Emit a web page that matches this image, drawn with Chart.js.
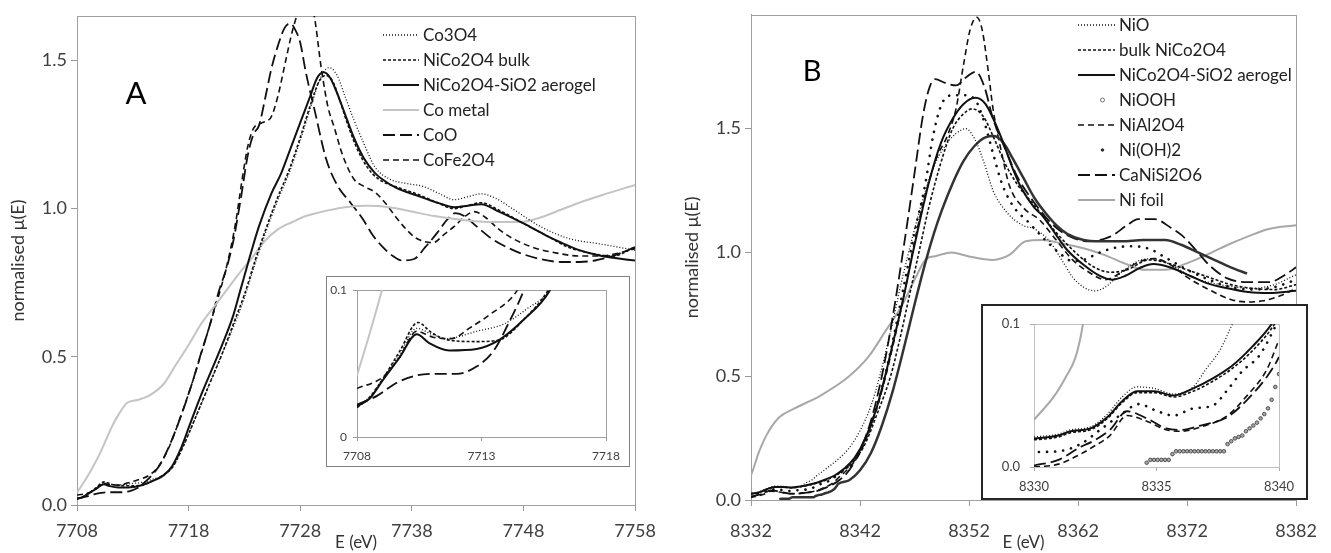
<!DOCTYPE html>
<html>
<head>
<meta charset="utf-8">
<title>Co and Ni K-edge XANES</title>
<script src="https://cdn.jsdelivr.net/npm/chart.js@4.4.0/dist/chart.umd.min.js"></script>
<style>
  body { margin: 0; background: #fff; }
  #wrap { position: relative; width: 1331px; height: 553px; overflow: hidden; background: #fff; }
  canvas { position: absolute; left: 0; top: 0; }
  .inset { position: absolute; background: #fff; }
</style>
</head>
<body>
<div id="wrap">
  <canvas id="mainA" width="665" height="553"></canvas>
  <canvas id="mainB" width="666" height="553" style="left:665px"></canvas>
  <div class="inset" style="left:326px;top:276px;width:302px;height:189px;border:1px solid #808080">
    <canvas id="insetA" width="302" height="189"></canvas>
  </div>
  <div class="inset" style="left:981px;top:304px;width:323px;height:192px;border:2px solid #262626">
    <canvas id="insetB" width="323" height="192"></canvas>
  </div>
</div>
<script>
// ---- panel A : Co K-edge, [E (eV), normalised mu(E)] ----
var co3o4 = [[7708,0.021],[7708.5,0.027],[7709.05,0.04],[7709.7,0.056],[7710.4,0.074],[7711,0.07],[7711.6,0.067],[7712.8,0.072],[7713.9,0.077],[7714.8,0.087],[7715.75,0.1],[7716.5,0.125],[7717.3,0.18],[7718,0.24],[7719,0.33],[7720,0.42],[7721,0.51],[7722,0.6],[7723,0.7],[7724,0.82],[7725,0.93],[7726,1.03],[7727,1.12],[7728,1.23],[7729,1.35],[7729.8,1.44],[7730.6,1.476],[7731.3,1.45],[7732,1.38],[7732.8,1.3],[7733.7,1.22],[7734.7,1.14],[7736,1.1],[7737.5,1.085],[7739,1.075],[7740.5,1.05],[7741.8,1.03],[7743,1.04],[7744.2,1.05],[7745.5,1.035],[7747,1.0],[7749.5,0.94],[7752,0.9],[7755,0.88],[7758,0.86]];
var bulkA = [[7708,0.02],[7708.5,0.027],[7709.05,0.04],[7709.7,0.058],[7710.45,0.078],[7711,0.071],[7711.7,0.066],[7712.8,0.065],[7713.7,0.066],[7714.7,0.08],[7715.6,0.098],[7716.5,0.125],[7717.3,0.18],[7718,0.24],[7719,0.33],[7720,0.42],[7721,0.51],[7722,0.61],[7723,0.71],[7724,0.83],[7725,0.94],[7726,1.04],[7727,1.13],[7728,1.24],[7729,1.36],[7729.7,1.43],[7730.3,1.45],[7730.9,1.43],[7731.5,1.37],[7732.2,1.29],[7733,1.21],[7734,1.14],[7735,1.1],[7736.5,1.075],[7738.4,1.05],[7740.3,1.02],[7741.8,1.0],[7743,1.01],[7744.2,1.02],[7745.8,0.995],[7748,0.95],[7750,0.91],[7752,0.87],[7754,0.85],[7756,0.84],[7758,0.87]];
var aerogelA = [[7708,0.021],[7708.5,0.026],[7709.05,0.039],[7709.7,0.054],[7710.4,0.07],[7710.9,0.064],[7711.7,0.059],[7712.8,0.06],[7713.7,0.066],[7714.7,0.08],[7715.75,0.1],[7716.5,0.13],[7717.3,0.19],[7718,0.26],[7719,0.36],[7720,0.45],[7721,0.54],[7722,0.64],[7722.6,0.72],[7723.5,0.84],[7724.3,0.94],[7725.4,1.05],[7726.3,1.12],[7727.1,1.2],[7728,1.29],[7728.9,1.38],[7729.5,1.44],[7730.1,1.46],[7730.7,1.44],[7731.3,1.39],[7732,1.32],[7732.8,1.24],[7733.7,1.17],[7734.7,1.12],[7735.7,1.09],[7736.6,1.07],[7738.4,1.045],[7740.3,1.02],[7741.8,1.005],[7743,1.01],[7744.2,1.015],[7745.8,0.99],[7748,0.95],[7750,0.91],[7751.4,0.885],[7753,0.86],[7755,0.84],[7758,0.825]];
var coMetal = [[7708,0.042],[7708.5,0.07],[7709,0.1],[7709.3,0.12],[7710,0.17],[7710.6,0.22],[7711.2,0.27],[7711.8,0.31],[7712.5,0.345],[7713.5,0.355],[7714.5,0.37],[7715.8,0.41],[7716.8,0.47],[7718,0.54],[7719.1,0.61],[7720.3,0.67],[7721.5,0.73],[7722.5,0.78],[7723.6,0.83],[7724.8,0.89],[7726,0.93],[7727.3,0.955],[7728.5,0.975],[7730.6,0.995],[7732,1.005],[7734,1.01],[7736,1.005],[7738,0.99],[7740,0.975],[7743,0.96],[7745,0.955],[7747.7,0.955],[7749.5,0.97],[7751.4,0.997],[7753,1.02],[7755,1.045],[7758,1.08]];
var coO = [[7708,0.022],[7708.8,0.028],[7709.6,0.037],[7710.4,0.042],[7711.1,0.043],[7712,0.043],[7712.8,0.048],[7713.5,0.059],[7714.1,0.078],[7714.7,0.1],[7715.5,0.14],[7716.5,0.22],[7717.5,0.32],[7718.3,0.41],[7719.1,0.51],[7720,0.62],[7720.7,0.72],[7721.4,0.8],[7722,0.89],[7722.7,1.04],[7723.3,1.18],[7723.8,1.25],[7724.3,1.28],[7724.9,1.38],[7725.4,1.47],[7726,1.55],[7726.6,1.61],[7727.1,1.625],[7727.6,1.6],[7728,1.56],[7728.5,1.46],[7729.3,1.33],[7730.3,1.17],[7731.3,1.08],[7732.5,1.02],[7733.6,0.965],[7734.5,0.91],[7735.4,0.87],[7736.3,0.84],[7737.1,0.825],[7738.2,0.83],[7739.2,0.87],[7740.3,0.92],[7741.2,0.965],[7741.9,0.985],[7742.7,0.975],[7743.8,0.94],[7745.1,0.9],[7746.5,0.87],[7747.7,0.85],[7749.5,0.83],[7751.4,0.82],[7753,0.82],[7754.4,0.825],[7756,0.84],[7758,0.87]];
var coFe2o4 = [[7708,0.033],[7709.05,0.041],[7709.7,0.054],[7710.4,0.072],[7711.05,0.068],[7711.8,0.067],[7712.5,0.074],[7713.3,0.083],[7714.4,0.099],[7715.3,0.13],[7716.3,0.2],[7717.3,0.3],[7718.3,0.41],[7719.2,0.52],[7720,0.62],[7720.8,0.72],[7721.5,0.82],[7722.2,0.95],[7722.8,1.1],[7723.3,1.21],[7723.8,1.27],[7724.6,1.29],[7725.4,1.31],[7726,1.38],[7726.7,1.5],[7727.3,1.6],[7727.8,1.66],[7728.5,1.7],[7729.2,1.66],[7729.9,1.47],[7730.5,1.34],[7731,1.28],[7731.8,1.18],[7732.8,1.1],[7733.7,1.075],[7734.7,1.055],[7735.6,1.02],[7736.6,0.97],[7737.5,0.93],[7738.4,0.9],[7739.9,0.885],[7740.8,0.91],[7741.8,0.94],[7742.8,0.975],[7743.6,0.99],[7744.6,0.97],[7745.8,0.93],[7747,0.9],[7748.8,0.87],[7751,0.85],[7753,0.84],[7755,0.84],[7756.5,0.85],[7758,0.865]];

// ---- panel B : Ni K-edge ----
var niO = [[8330,0.021],[8331,0.023],[8331.5,0.026],[8332.3,0.028],[8333,0.037],[8333.6,0.049],[8334.2,0.056],[8334.9,0.055],[8335.7,0.051],[8336.5,0.056],[8337,0.068],[8337.6,0.082],[8338.1,0.1],[8339,0.13],[8340,0.165],[8341,0.21],[8342,0.28],[8343,0.38],[8343.8,0.5],[8344.8,0.68],[8345.8,0.88],[8346.8,1.06],[8347.8,1.22],[8348.8,1.35],[8349.8,1.43],[8350.8,1.48],[8351.7,1.5],[8352.5,1.46],[8353.4,1.36],[8354.2,1.25],[8355.5,1.16],[8356.9,1.11],[8358,1.095],[8359.3,1.05],[8360.5,0.97],[8361.5,0.9],[8362.5,0.86],[8363.5,0.845],[8364.5,0.86],[8366,0.92],[8367.5,0.965],[8368.8,0.975],[8370.5,0.95],[8372.5,0.9],[8375,0.87],[8378,0.855],[8380,0.87],[8382,0.91]];
var bulkB = [[8330,0.019],[8331,0.021],[8331.5,0.024],[8332.3,0.026],[8333,0.034],[8333.6,0.045],[8334.2,0.052],[8334.9,0.052],[8335.7,0.049],[8336.5,0.053],[8337.3,0.06],[8338.1,0.069],[8338.9,0.081],[8339.7,0.097],[8340.5,0.12],[8341.5,0.16],[8342.5,0.23],[8343.5,0.34],[8344.8,0.5],[8345.6,0.64],[8346.5,0.82],[8347.4,1.0],[8348.3,1.18],[8349.4,1.36],[8350.5,1.5],[8351.5,1.56],[8352.3,1.58],[8353.3,1.55],[8354.3,1.46],[8355.3,1.36],[8356.5,1.27],[8358,1.19],[8360,1.08],[8362,0.99],[8363.5,0.94],[8365,0.92],[8366.5,0.93],[8368.5,0.97],[8370,0.96],[8372,0.93],[8374,0.9],[8376,0.87],[8378,0.855],[8380,0.85],[8382,0.87]];
var aerogelB = [[8330,0.02],[8331,0.022],[8331.5,0.025],[8332.3,0.027],[8333,0.035],[8333.6,0.046],[8334.2,0.053],[8334.9,0.053],[8335.7,0.05],[8336.5,0.055],[8337.3,0.062],[8338.1,0.071],[8338.9,0.084],[8339.7,0.1],[8340.5,0.125],[8341.5,0.17],[8342.5,0.25],[8343.5,0.37],[8344.3,0.5],[8345,0.63],[8346,0.82],[8346.8,0.99],[8347.5,1.13],[8348.3,1.28],[8349.4,1.44],[8350.5,1.54],[8351.5,1.6],[8352.6,1.625],[8353.5,1.6],[8354.9,1.47],[8356,1.34],[8356.8,1.26],[8358,1.18],[8358.7,1.15],[8360,1.07],[8361,1.01],[8362.5,0.95],[8364,0.905],[8365.1,0.89],[8366.3,0.905],[8367.8,0.94],[8368.9,0.953],[8370.4,0.94],[8372.3,0.905],[8373.8,0.876],[8375.7,0.855],[8377.6,0.84],[8379.5,0.836],[8382,0.845]];
var niOOH = [[8334.6,0.003],[8334.75,0.005],[8334.9,0.005],[8335.05,0.005],[8335.2,0.005],[8335.35,0.005],[8335.5,0.005],[8335.65,0.009],[8335.8,0.011],[8335.95,0.011],[8336.1,0.011],[8336.25,0.011],[8336.4,0.011],[8336.55,0.011],[8336.7,0.011],[8336.85,0.011],[8337,0.011],[8337.15,0.011],[8337.3,0.011],[8337.45,0.011],[8337.6,0.011],[8337.75,0.011],[8337.9,0.016],[8338.05,0.018],[8338.2,0.02],[8338.35,0.021],[8338.5,0.022],[8338.65,0.025],[8338.8,0.027],[8338.95,0.029],[8339.1,0.031],[8339.25,0.034],[8339.4,0.037],[8339.55,0.041],[8339.7,0.047],[8339.85,0.056],[8340,0.065],[8341,0.08],[8342,0.12],[8343,0.19],[8344,0.3],[8345,0.44],[8346,0.61],[8347,0.79],[8348,0.96],[8348.8,1.08],[8349.5,1.17],[8350.5,1.28],[8351.5,1.37],[8352.5,1.43],[8353.5,1.465],[8354.3,1.47],[8355.2,1.44],[8356,1.38],[8357,1.3],[8358,1.22],[8359,1.16],[8360,1.11],[8361,1.075],[8362.5,1.05],[8364,1.045],[8366,1.045],[8368,1.05],[8370,1.05],[8371.5,1.03],[8373,1.0],[8374.5,0.97],[8376,0.94],[8377.5,0.915]];
var niAl2o4 = [[8330,0.0],[8331,0.002],[8331.9,0.009],[8332.4,0.014],[8333.1,0.022],[8333.8,0.036],[8334.6,0.032],[8335.4,0.026],[8336,0.025],[8336.8,0.028],[8337.9,0.036],[8338.7,0.05],[8339.5,0.068],[8340,0.089],[8341,0.13],[8342,0.19],[8343,0.3],[8344,0.44],[8345,0.62],[8346,0.82],[8346.8,1.0],[8347.8,1.2],[8349,1.38],[8350,1.47],[8350.8,1.58],[8351.5,1.76],[8352.1,1.9],[8352.7,1.95],[8353.2,1.9],[8353.8,1.72],[8354.2,1.58],[8355,1.4],[8355.7,1.27],[8357,1.18],[8358.5,1.13],[8360,1.05],[8361.5,0.97],[8363,0.92],[8364.5,0.89],[8366,0.92],[8367.5,0.96],[8369,0.975],[8370.5,0.95],[8372,0.9],[8374,0.85],[8376,0.81],[8377.5,0.8],[8379,0.805],[8380.6,0.826],[8382,0.855]];
var niOH2 = [[8330.2,0.0105],[8331,0.011],[8331.9,0.016],[8332.7,0.026],[8333.5,0.036],[8334.3,0.044],[8334.9,0.04],[8335.7,0.036],[8336.5,0.041],[8337.3,0.043],[8337.9,0.054],[8338.5,0.067],[8339.2,0.078],[8339.9,0.1],[8341,0.14],[8342,0.2],[8343,0.3],[8344,0.45],[8345,0.64],[8346,0.86],[8347,1.08],[8348,1.28],[8348.7,1.47],[8349.5,1.6],[8350.5,1.635],[8351.5,1.635],[8352.5,1.62],[8353.3,1.54],[8354.2,1.4],[8355,1.28],[8356,1.19],[8357.5,1.12],[8359,1.05],[8360.5,0.99],[8361.5,0.965],[8362.5,0.97],[8364,1.0],[8365.5,1.02],[8367,1.025],[8368.5,1.015],[8370,0.98],[8372,0.93],[8374,0.89],[8376,0.86],[8378,0.85],[8380,0.86],[8382,0.89]];
var caNiSi2o6 = [[8330,0.001],[8331,0.005],[8331.9,0.014],[8332.4,0.018],[8333.1,0.026],[8333.8,0.039],[8334.6,0.034],[8335.4,0.027],[8336,0.026],[8336.8,0.029],[8337.9,0.035],[8338.7,0.047],[8339.5,0.063],[8340,0.077],[8341,0.12],[8342,0.2],[8343,0.32],[8344,0.5],[8345,0.74],[8346,1.02],[8347,1.32],[8347.8,1.56],[8348.4,1.67],[8348.9,1.7],[8349.8,1.685],[8350.8,1.675],[8351.8,1.71],[8352.6,1.73],[8353.4,1.67],[8354.2,1.54],[8355.3,1.42],[8356.5,1.3],[8358,1.2],[8359.5,1.12],[8361,1.07],[8363,1.045],[8365,1.065],[8366.5,1.11],[8367.5,1.135],[8369,1.135],[8370.5,1.1],[8371.5,1.07],[8373,1.0],[8374,0.95],[8375.7,0.895],[8377.6,0.88],[8379.5,0.88],[8381,0.91],[8382,0.94]];
var niFoil = [[8330,0.033],[8330.8,0.049],[8331.3,0.063],[8331.7,0.077],[8332,0.1],[8332.7,0.19],[8333.4,0.26],[8334.5,0.33],[8336,0.37],[8338.3,0.42],[8341,0.5],[8342.8,0.58],[8344.3,0.68],[8345.9,0.79],[8347,0.89],[8348.1,0.975],[8348.9,0.985],[8350.4,1.0],[8351.9,0.985],[8354.2,0.97],[8355.7,0.99],[8357.2,1.045],[8358.7,1.05],[8360.6,1.035],[8362.5,1.017],[8364.4,0.99],[8366.3,0.955],[8368.1,0.93],[8370,0.93],[8371.9,0.955],[8373.8,0.99],[8375.7,1.03],[8377.6,1.065],[8379.5,1.095],[8382,1.11]];

// ---- ticks ----
var xTicksA = [7708, 7718, 7728, 7738, 7748, 7758];
var xTicksB = [8332, 8342, 8352, 8362, 8372, 8382];
var yTicksMain = [0, 0.5, 1.0, 1.5];
var xTicksInsetA = [7708, 7713, 7718];
var xTicksInsetB = [8330, 8335, 8340];
var yTicksInset = [0, 0.1];

Chart.defaults.font.family = 'Lato, "Open Sans", sans-serif';
Chart.defaults.color = '#404040';

var FINE_DOT = { borderWidth: 1.3, borderDash: [1, 2] };
var SHORT_DASH = { borderWidth: 1.6, borderDash: [3, 2] };
var SOLID = { borderWidth: 2 };
var MED_DASH = { borderWidth: 1.6, borderDash: [6, 4] };
var LONG_DASH = { borderWidth: 1.8, borderDash: [12, 5] };

function set(label, data, style) {
  return Object.assign({
    label: label, data: data, borderColor: '#111', pointRadius: 0,
    fill: false, cubicInterpolationMode: 'monotone'
  }, style);
}

function setsA() {
  return [
    set('Co3O4', co3o4, FINE_DOT),
    set('NiCo2O4 bulk', bulkA, SHORT_DASH),
    set('NiCo2O4-SiO2 aerogel', aerogelA, SOLID),
    set('Co metal', coMetal, { borderColor: '#c4c4c4', borderWidth: 2 }),
    set('CoO', coO, LONG_DASH),
    set('CoFe2O4', coFe2o4, MED_DASH)
  ];
}

function setsB(inset) {
  var ooh = inset
    ? { showLine: false, pointRadius: 1.8, pointBorderWidth: 0.8, pointBorderColor: '#333', pointBackgroundColor: '#aaa' }
    : { borderColor: '#333', borderWidth: 2.5 };
  ooh.legendDot = { r: 2, fill: '#fff', stroke: '#555' };
  return [
    set('NiO', niO, FINE_DOT),
    set('bulk NiCo2O4', bulkB, SHORT_DASH),
    set('NiCo2O4-SiO2 aerogel', aerogelB, SOLID),
    set('NiOOH', niOOH, ooh),
    set('NiAl2O4', niAl2o4, MED_DASH),
    set('Ni(OH)2', niOH2, { borderWidth: 2.6, borderDash: [0.1, 8], borderCapStyle: 'round', legendDot: { r: 1.3, fill: '#222', stroke: '#222' } }),
    set('CaNiSi2O6', caNiSi2o6, LONG_DASH),
    set('Ni foil', niFoil, { borderColor: '#a8a8a8', borderWidth: 2 })
  ];
}

// frame round the plot area, legend with line samples, panel letter
var decor = {
  id: 'decor',
  beforeDatasetsDraw: function (chart, args, o) {
    var a = chart.chartArea, ctx = chart.ctx;
    ctx.save();
    ctx.strokeStyle = o.frame || '#a0a0a0';
    ctx.lineWidth = 1;
    ctx.strokeRect(Math.round(a.left) + 0.5, Math.round(a.top) + 0.5, Math.round(a.right - a.left), Math.round(a.bottom - a.top));
    ctx.restore();
  },
  afterDraw: function (chart, args, o) {
    var ctx = chart.ctx;
    if (o.legend) {
      var L = o.legend;
      ctx.save();
      ctx.font = L.size + 'px Lato, "Open Sans", sans-serif';
      ctx.textBaseline = 'middle';
      ctx.fillStyle = '#222';
      chart.data.datasets.forEach(function (ds, i) {
        var y = L.y + i * L.dy;
        ctx.save();
        if (ds.legendDot) {
          ctx.beginPath();
          ctx.arc(L.x + L.len / 2 + 6, y, ds.legendDot.r, 0, 2 * Math.PI);
          ctx.fillStyle = ds.legendDot.fill;
          ctx.strokeStyle = ds.legendDot.stroke;
          ctx.lineWidth = 0.8;
          ctx.fill();
          ctx.stroke();
        } else {
          ctx.strokeStyle = ds.borderColor;
          ctx.lineWidth = ds.borderWidth;
          ctx.setLineDash(ds.borderDash || []);
          ctx.beginPath();
          ctx.moveTo(L.x, y);
          ctx.lineTo(L.x + L.len, y);
          ctx.stroke();
        }
        ctx.restore();
        ctx.fillText(ds.label, L.x + L.len + 4, y + 1);
      });
      ctx.restore();
    }
    if (o.tag) {
      ctx.save();
      ctx.font = o.tag.size + 'px Lato, "Open Sans", sans-serif';
      ctx.fillStyle = '#000';
      ctx.textAlign = 'center';
      ctx.textBaseline = 'middle';
      ctx.fillText(o.tag.text, o.tag.x, o.tag.y);
      ctx.restore();
    }
  }
};

function axes(o) {
  return {
    x: {
      type: 'linear', min: o.xMin, max: o.xMax,
      afterBuildTicks: function (s) { s.ticks = o.xTicks.map(function (v) { return { value: v }; }); },
      afterFit: function (s) { s.height = o.xH; },
      grid: { drawOnChartArea: false, tickLength: o.tick, color: o.axis },
      border: { color: o.axis },
      ticks: { font: { size: o.fs }, padding: o.xPad, maxRotation: 0, callback: function (v) { return String(v); } },
      title: o.xTitle ? { display: true, text: o.xTitle, font: { size: 17 }, padding: { top: 0, bottom: 0 }, color: '#333' } : { display: false }
    },
    y: {
      min: o.yMin, max: o.yMax,
      afterBuildTicks: function (s) { s.ticks = o.yTicks.map(function (v) { return { value: v }; }); },
      afterFit: function (s) { s.width = o.yW; },
      grid: { drawOnChartArea: false, tickLength: o.tick, color: o.axis },
      border: { color: o.axis },
      ticks: { font: { size: o.fs }, padding: o.yPad, callback: o.yFmt },
      title: o.yTitle ? { display: true, text: o.yTitle, font: { size: 18 }, padding: { top: o.yTitlePad, bottom: 0 }, color: '#333' } : { display: false }
    }
  };
}

function make(id, datasets, scales, padding, decorOpts) {
  return new Chart(document.getElementById(id), {
    type: 'line',
    data: { datasets: datasets },
    options: {
      responsive: false, animation: false, devicePixelRatio: 1,
      layout: { padding: padding },
      scales: scales,
      plugins: { legend: { display: false }, tooltip: { enabled: false }, decor: decorOpts }
    },
    plugins: [decor]
  });
}

var oneDec = function (v) { return v.toFixed(1); };

make('mainA', setsA(), axes({
  xMin: 7708, xMax: 7758, xTicks: xTicksA, yMin: 0, yMax: 1.65, yTicks: yTicksMain,
  xH: 48, yW: 77, tick: 6, axis: '#999', fs: 18, xPad: 9, yPad: 4, yFmt: oneDec,
  xTitle: 'E (eV)', yTitle: 'normalised \u03bc(E)', yTitlePad: 7
}), { left: 0, right: 22, top: 16, bottom: 0 }, {
  frame: '#a0a0a0',
  legend: { x: 383, y: 35, dy: 25, len: 36, size: 17 },
  tag: { text: 'A', x: 136, y: 94, size: 31 }
});

make('mainB', setsB(false), axes({
  xMin: 8332, xMax: 8382, xTicks: xTicksB, yMin: 0, yMax: 1.96, yTicks: yTicksMain,
  xH: 53, yW: 86, tick: 6, axis: '#999', fs: 18, xPad: 14, yPad: 4, yFmt: oneDec,
  xTitle: 'E (eV)', yTitle: 'normalised \u03bc(E)', yTitlePad: 16
}), { left: 0, right: 19, top: 13, bottom: 0 }, {
  frame: '#a0a0a0',
  legend: { x: 413, y: 25, dy: 25, len: 37, size: 17 },
  tag: { text: 'B', x: 147, y: 72, size: 29 }
});

make('insetA', setsA(), axes({
  xMin: 7708, xMax: 7718, xTicks: xTicksInsetA, yMin: 0, yMax: 0.1, yTicks: yTicksInset,
  xH: 29, yW: 30, tick: 4, axis: '#999', fs: 12, xPad: 8, yPad: 6,
  yFmt: function (v) { return v === 0 ? '0' : v.toFixed(1); }
}), { left: 0, right: 23, top: 6, bottom: 0 }, { frame: '#a0a0a0' });

make('insetB', setsB(true), axes({
  xMin: 8330, xMax: 8340, xTicks: xTicksInsetB, yMin: 0, yMax: 0.1, yTicks: yTicksInset,
  xH: 31, yW: 51, tick: 4, axis: '#aaa', fs: 13, xPad: 8, yPad: 10, yFmt: oneDec
}), { left: 0, right: 27, top: 18, bottom: 0 }, { frame: '#c0c0c0' });
</script>
</body>
</html>
